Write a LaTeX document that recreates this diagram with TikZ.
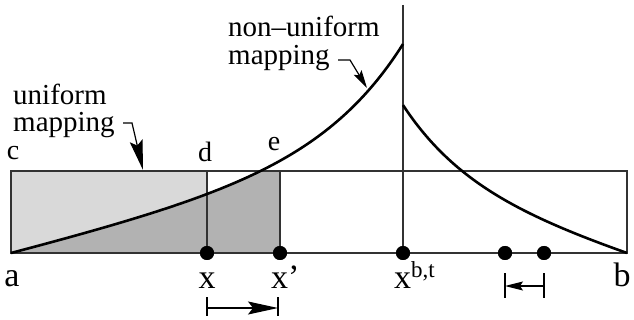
\documentclass[tikz,border=0pt]{standalone}
\usepackage{fontspec}
\setmainfont{Liberation Serif}
\newfontfamily\lserif{Liberation Serif}
\usetikzlibrary{arrows.meta}
\definecolor{lightfill}{RGB}{217,217,217}
\definecolor{darkfill}{RGB}{178,178,178}
\definecolor{linegray}{RGB}{50,50,50}
\begin{document}
\begin{tikzpicture}[x=1pt,y=-1pt,
  thinline/.style={line width=1.3pt, draw=linegray},
  curveline/.style={line width=2.6pt, draw=black, line join=round},
  dot/.style={circle, fill=black, inner sep=0pt, minimum size=14pt},
  biglbl/.style={inner sep=0pt, font=\lserif\fontsize{34}{34}\selectfont},
  smalllbl/.style={inner sep=0pt, font=\lserif\fontsize{28}{28}\selectfont},
  txt/.style={inner sep=0pt, anchor=base west, font=\lserif\fontsize{29}{29}\selectfont},
  bigtip/.style={-{Stealth[length=30pt,width=13pt,inset=5pt]}},
  smalltip/.style={-{Stealth[length=18pt,width=9pt,inset=3pt]}},
]
\useasboundingbox (0,0) rectangle (634,320);
% key points
\coordinate (C) at (11,171);
\coordinate (A) at (11,253);
\coordinate (D) at (207,171);
\coordinate (E) at (280,171);
\coordinate (T) at (403,5);
\coordinate (B) at (627,253);
% fills
\fill[lightfill] (C) rectangle (207,253);
\begin{scope}
  \clip (C) rectangle (280,253);
  \fill[darkfill] plot[domain=0:392, samples=120] ({11+\x},{253-0.252*\x-1.01*(exp(0.012*\x)-1)}) -- (403,253) -- cycle;
\end{scope}
% dots
\node[dot] (px) at (207,253) {};
\node[dot] (pxp) at (280,253) {};
\node[dot] (pbt) at (403,253) {};
\node[dot] (p1) at (505,253) {};
\node[dot] (p2) at (544,253) {};
% rectangle and vertical lines
\draw[thinline] (C) rectangle (B);
\draw[thinline] (D) -- (px.center);
\draw[thinline] (E) -- (pxp.center);
\draw[thinline] (T) -- (pbt.center);
% curves
\draw[curveline] plot[domain=0:392, samples=120] ({11+\x},{253-0.252*\x-1.01*(exp(0.012*\x)-1)});
\draw[curveline] plot[domain=224:0, samples=100] ({627-\x},{253-0.313*\x-2.8*(exp(0.015*\x)-1)});
% redraw dots on top
\node[dot] at (px) {};
\node[dot] at (pxp) {};
\node[dot] at (pbt) {};
\node[dot] at (p1) {};
\node[dot] at (p2) {};
% corner labels
\node[biglbl, anchor=base] (la) at (12,286) {a};
\node[biglbl, anchor=base] (lb) at (622,286) {b};
\node[smalllbl, anchor=base] (lc) at (13,160) {c};
\node[smalllbl, anchor=base] (ld) at (205,162) {d};
\node[smalllbl, anchor=base] (le) at (274,151) {e};
\node[biglbl, anchor=base] (lx) at (207,288) {x};
\node[biglbl, anchor=base west] (lxp) at (271,288) {x’};
\node[biglbl, anchor=base west] (lxbt) at (394,288) {x\raisebox{11pt}{\fontsize{23}{23}\selectfont b,t}};
% text
\node[txt] (u1) at (13,105) {uniform};
\node[txt] (u2) at (13,132) {mapping};
\node[txt] (n1) at (228,37) {non–uniform};
\node[txt] (n2) at (228,65) {mapping};
% hook arrows
\coordinate (uh1) at (123,123);
\coordinate (uh2) at (132,123);
\coordinate (uh3) at (143,170);
\draw[line width=1.2pt, bigtip] (uh1) -- (uh2) -- (uh3);
\coordinate (nh1) at (338,60);
\coordinate (nh2) at (350,60);
\coordinate (nh3) at (367,88);
\draw[line width=1.2pt, smalltip] (nh1) -- (nh2) -- (nh3);
% motion arrows
\coordinate (m1t) at (207,297); \coordinate (m1b) at (207,316);
\coordinate (m2t) at (278,297); \coordinate (m2b) at (278,316);
\coordinate (m1) at (207,308); \coordinate (m2) at (278,308);
\draw[line width=1.2pt] (m1t) -- (m1b);
\draw[line width=1.2pt] (m2t) -- (m2b);
\draw[line width=1.2pt, bigtip] (m1) -- (m2);
\coordinate (k1t) at (505,273); \coordinate (k1b) at (505,298);
\coordinate (k2t) at (544,273); \coordinate (k2b) at (544,298);
\coordinate (k1) at (505,286); \coordinate (k2) at (544,286);
\draw[line width=1.2pt] (k1t) -- (k1b);
\draw[line width=1.2pt] (k2t) -- (k2b);
\draw[line width=1.2pt, smalltip] (k2) -- (k1);
\end{tikzpicture}
\end{document}
